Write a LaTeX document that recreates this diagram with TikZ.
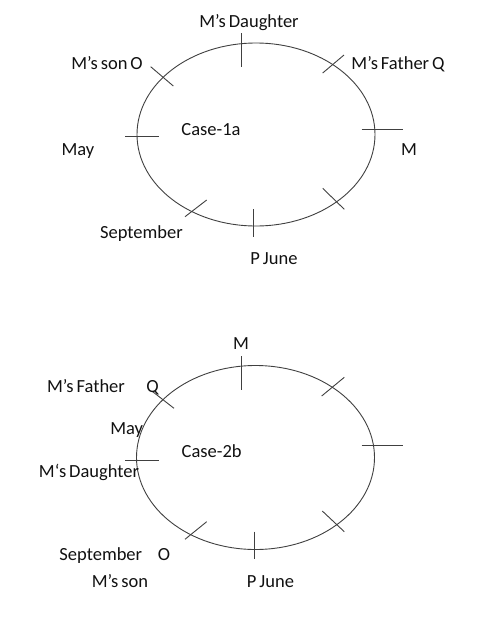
\documentclass[tikz,border=0pt]{standalone}
\usepackage{fontspec}
\setmainfont[WordSpace=0.7]{Carlito}
\usetikzlibrary{positioning}
\definecolor{seatLine}{HTML}{404040}
\definecolor{seatText}{HTML}{111111}

\tikzset{
  seat/.style={draw=seatLine, line width=0.9pt},
  tick/.style={draw=seatLine, line width=0.9pt},
  lbl/.style={font=\fontsize{18.5}{22}\selectfont, text=seatText, inner sep=0pt, anchor=base}
}

\begin{document}
\begin{tikzpicture}[x=1pt, y=-1pt]
        \useasboundingbox (0,0) rectangle (500,622);
        % Case-1a
        \draw[seat] (256,134.5) ellipse (119 and 91.5);
        \draw[tick] (241.7,33) -- (241.7,67);
        \draw[tick] (322.7,73) -- (344,55);
        \draw[tick] (361.7,129.3) -- (402.7,129.3);
        \draw[tick] (322.7,188.3) -- (344.3,209.3);
        \draw[tick] (253.3,209.3) -- (253.3,237.3);
        \draw[tick] (185,216.7) -- (206.7,200);
        \draw[tick] (125,136.7) -- (159,136.7);
        \draw[tick] (150.7,66.7) -- (173.3,86);
        \node[lbl] (daughterA) at (249,27) {M’s Daughter};
        \node[lbl] (sonA) at (107,69) {M’s son O};
        \node[lbl] (fatherA) at (398,69) {M’s Father Q};
        \node[lbl] (caseA) at (211,135) {Case-1a};
        \node[lbl] (mayA) at (78,155.5) {May};
        \node[lbl] (mA) at (409,155.5) {M};
        \node[lbl] (septA) at (141.5,238) {September};
        \node[lbl] (juneA) at (274,264) {P June};
        % Case-2b
        \draw[seat] (255.5,457.5) ellipse (119 and 92);
        \draw[tick] (241,356) -- (241,390);
        \draw[tick] (321.7,396) -- (344.3,377.3);
        \draw[tick] (361.7,445) -- (402.7,445);
        \draw[tick] (322.3,511) -- (344.3,531.7);
        \draw[tick] (254,531.7) -- (254,559.3);
        \draw[tick] (185,539.3) -- (206.7,521.7);
        \draw[tick] (125,460) -- (159.3,460);
        \draw[tick] (152.7,391.7) -- (174,408.3);
        \node[lbl] (mB) at (241,349.5) {M};
        \node[lbl] (fatherB) at (86,392) {M’s Father};
        \node[lbl] (qB) at (152.5,392) {Q};
        \node[lbl] (mayB) at (126.7,434) {May};
        \node[lbl] (caseB) at (211.7,457) {Case-2b};
        \node[lbl] (daughterB) at (89,477) {M‘s Daughter};
        \node[lbl] (septB) at (100.8,560.5) {September};
        \node[lbl] (oB) at (164,560.5) {O};
        \node[lbl] (sonB) at (120,587) {M’s son};
        \node[lbl] (juneB) at (270.5,587) {P June};
      \end{tikzpicture}
\end{document}
